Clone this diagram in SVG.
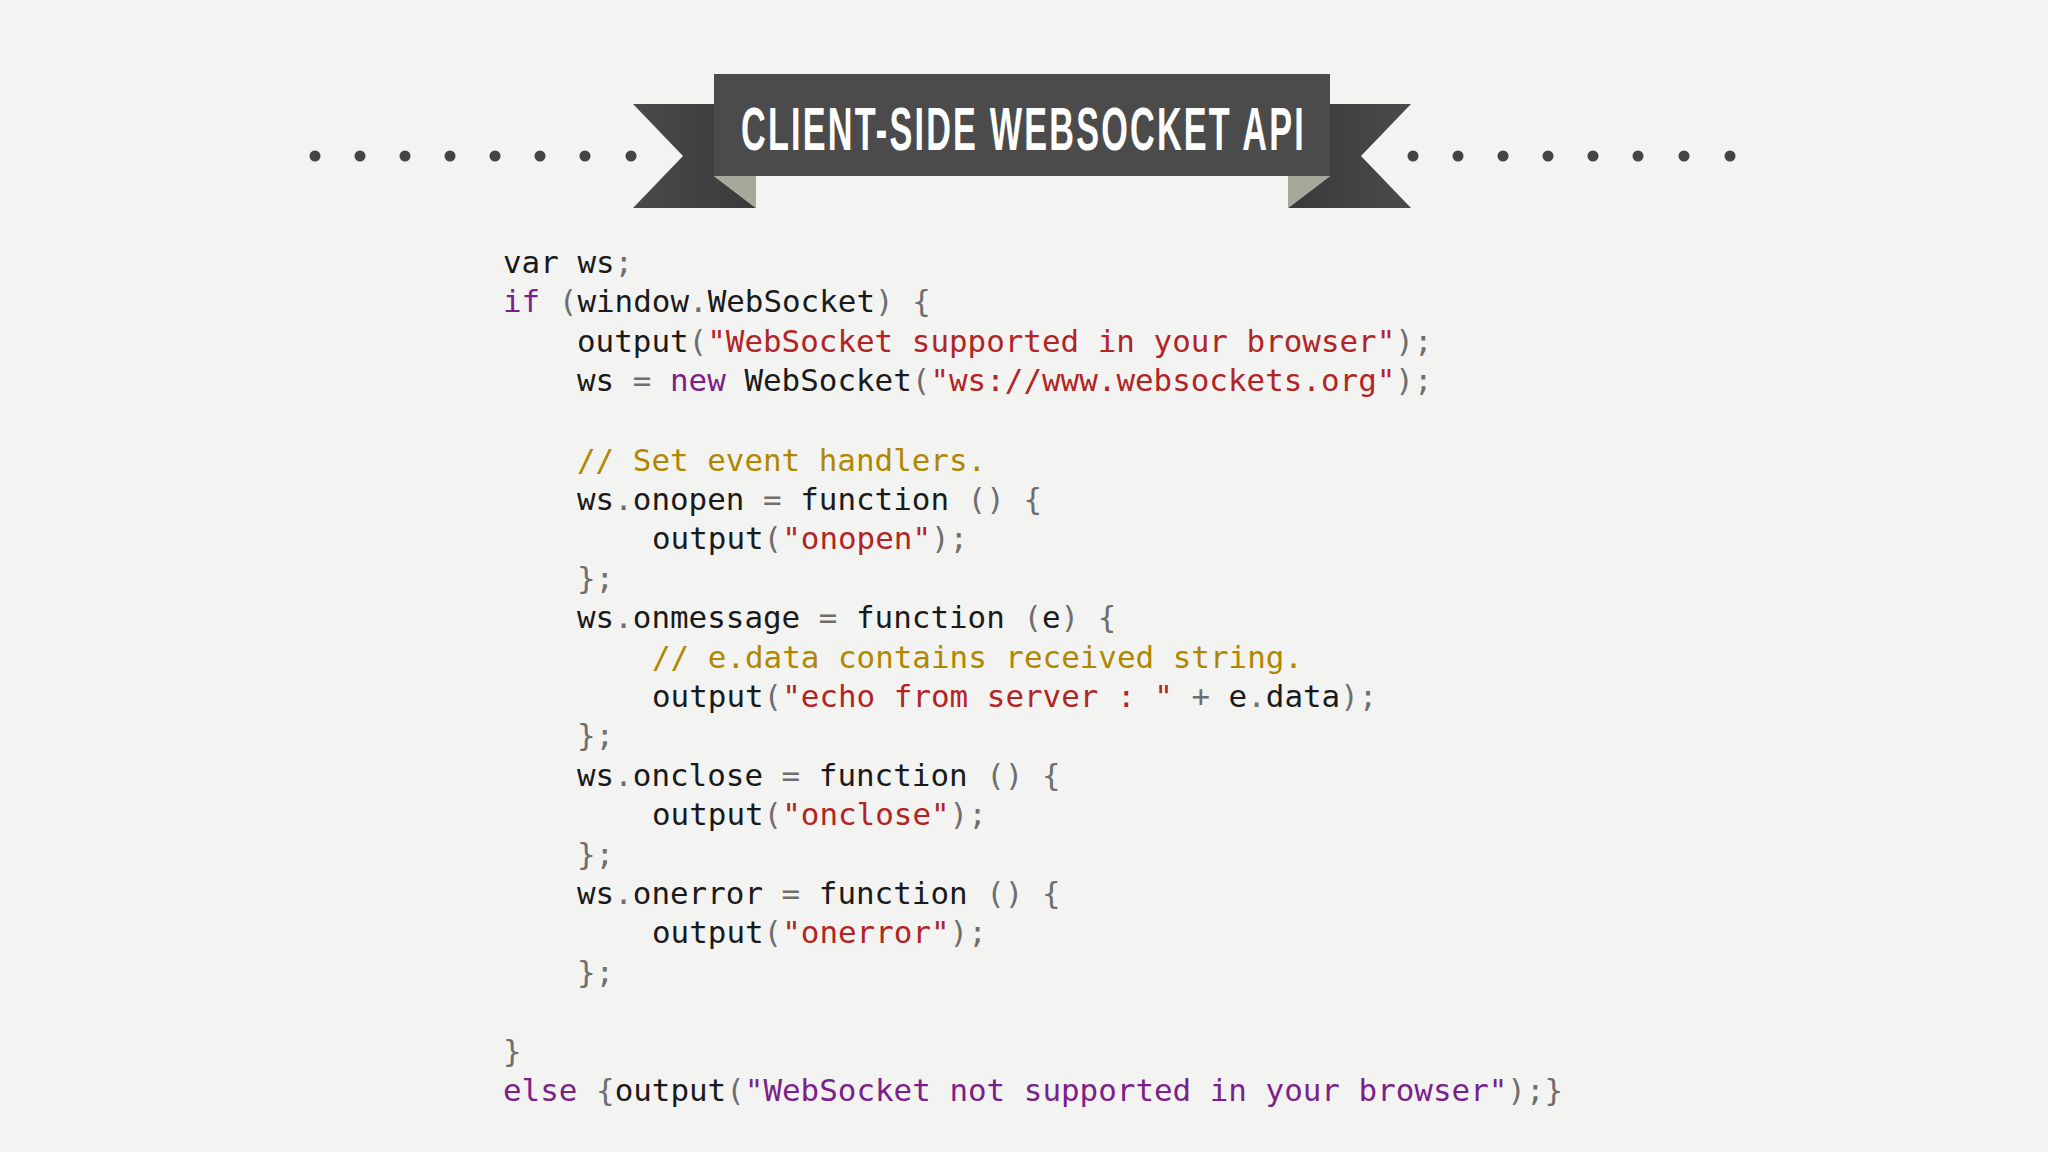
<svg xmlns="http://www.w3.org/2000/svg" width="2048" height="1152" viewBox="0 0 2048 1152">
<style>
.code{font-family:"DejaVu Sans Mono","Liberation Mono",monospace;font-size:30.9px;fill:#1a1a1a}
.p{fill:#7b1f8a}.s{fill:#b32424}.c{fill:#b08800}.g{fill:#6e6e6e}
.dot{fill:#444}
</style>
<defs>
<linearGradient id="tl" x1="0" y1="0" x2="1" y2="0"><stop offset="0" stop-color="#4a4a4a"/><stop offset="1" stop-color="#3a3a3a"/></linearGradient>
<linearGradient id="tr" x1="1" y1="0" x2="0" y2="0"><stop offset="0" stop-color="#4a4a4a"/><stop offset="1" stop-color="#3a3a3a"/></linearGradient>
</defs>
<rect width="2048" height="1152" fill="#f3f3f2"/>
<g id="dots">
<circle class="dot" cx="315" cy="156" r="5.5"/><circle class="dot" cx="360" cy="156" r="5.5"/><circle class="dot" cx="405" cy="156" r="5.5"/><circle class="dot" cx="450" cy="156" r="5.5"/><circle class="dot" cx="495" cy="156" r="5.5"/><circle class="dot" cx="540" cy="156" r="5.5"/><circle class="dot" cx="585" cy="156" r="5.5"/><circle class="dot" cx="631" cy="156" r="5.5"/>
<circle class="dot" cx="1413" cy="156" r="5.5"/><circle class="dot" cx="1458" cy="156" r="5.5"/><circle class="dot" cx="1503" cy="156" r="5.5"/><circle class="dot" cx="1548" cy="156" r="5.5"/><circle class="dot" cx="1593" cy="156" r="5.5"/><circle class="dot" cx="1638" cy="156" r="5.5"/><circle class="dot" cx="1684" cy="156" r="5.5"/><circle class="dot" cx="1730" cy="156" r="5.5"/>
</g>
<g id="banner">
<polygon points="633,104 714,104 714,176 756,208 633,208 683,156" fill="url(#tl)"/>
<polygon points="714,176 756,176 756,208" fill="#a7a79a"/>
<polygon points="1411,104 1330,104 1330,176 1288,208 1411,208 1361,156" fill="url(#tr)"/>
<polygon points="1330,176 1288,176 1288,208" fill="#a7a79a"/>
<rect x="714" y="74" width="616" height="102" fill="#4b4b4b"/>
<text x="741" y="150" font-family="Liberation Sans, sans-serif" font-weight="bold" font-size="62" fill="#fff" letter-spacing="4" textLength="565" lengthAdjust="spacingAndGlyphs">CLIENT-SIDE WEBSOCKET API</text>
</g>
<g id="code" class="code">
<text x="503" y="273">var ws<tspan class="g">;</tspan></text>
<text x="503" y="312"><tspan class="p">if</tspan> <tspan class="g">(</tspan>window<tspan class="g">.</tspan>WebSocket<tspan class="g">) {</tspan></text>
<text x="577" y="352">output<tspan class="g">(</tspan><tspan class="s">"WebSocket supported in your browser"</tspan><tspan class="g">);</tspan></text>
<text x="577" y="391">ws <tspan class="g">=</tspan> <tspan class="p">new</tspan> WebSocket<tspan class="g">(</tspan><tspan class="s">"ws://www.websockets.org"</tspan><tspan class="g">);</tspan></text>
<text x="577" y="471" class="c">// Set event handlers.</text>
<text x="577" y="510">ws<tspan class="g">.</tspan>onopen <tspan class="g">=</tspan> function <tspan class="g">() {</tspan></text>
<text x="652" y="549">output<tspan class="g">(</tspan><tspan class="s">"onopen"</tspan><tspan class="g">);</tspan></text>
<text x="577" y="589" class="g">};</text>
<text x="577" y="628">ws<tspan class="g">.</tspan>onmessage <tspan class="g">=</tspan> function <tspan class="g">(</tspan>e<tspan class="g">) {</tspan></text>
<text x="652" y="668" class="c">// e.data contains received string.</text>
<text x="652" y="707">output<tspan class="g">(</tspan><tspan class="s">"echo from server : "</tspan> <tspan class="g">+</tspan> e<tspan class="g">.</tspan>data<tspan class="g">);</tspan></text>
<text x="577" y="746" class="g">};</text>
<text x="577" y="786">ws<tspan class="g">.</tspan>onclose <tspan class="g">=</tspan> function <tspan class="g">() {</tspan></text>
<text x="652" y="825">output<tspan class="g">(</tspan><tspan class="s">"onclose"</tspan><tspan class="g">);</tspan></text>
<text x="577" y="865" class="g">};</text>
<text x="577" y="904">ws<tspan class="g">.</tspan>onerror <tspan class="g">=</tspan> function <tspan class="g">() {</tspan></text>
<text x="652" y="943">output<tspan class="g">(</tspan><tspan class="s">"onerror"</tspan><tspan class="g">);</tspan></text>
<text x="577" y="983" class="g">};</text>
<text x="503" y="1062" class="g">}</text>
<text x="503" y="1101"><tspan class="p">else</tspan> <tspan class="g">{</tspan>output<tspan class="g">(</tspan><tspan class="p">"WebSocket not supported in your browser"</tspan><tspan class="g">);}</tspan></text>
</g>
</svg>
